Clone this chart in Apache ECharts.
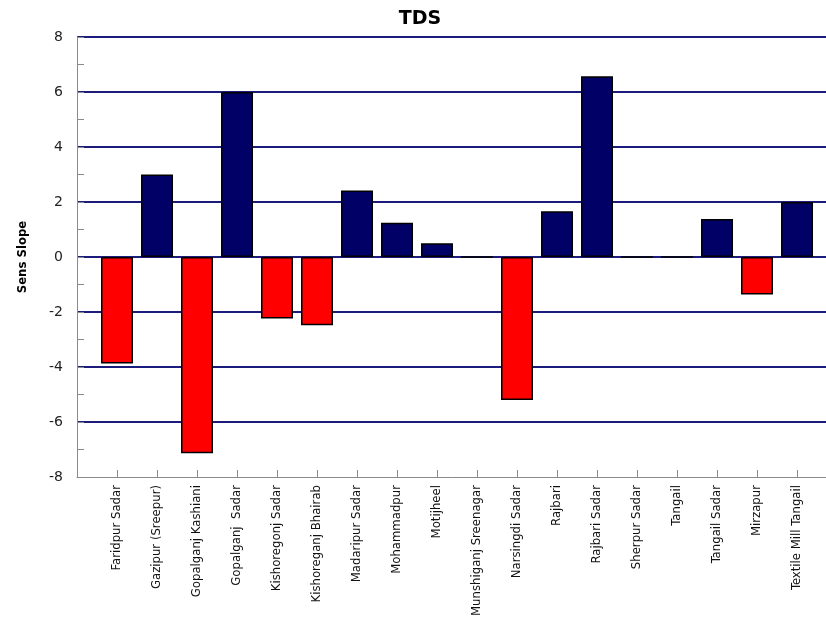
<!DOCTYPE html>
<html>
<head>
<meta charset="utf-8">
<script src="https://cdn.jsdelivr.net/npm/echarts@6/dist/echarts.min.js"></script>
<style>
  html, body { margin: 0; padding: 0; background: #ffffff; }
  #chart { width: 826px; height: 617px; }
</style>
</head>
<body>
<div id="chart"></div>
<script>
// Sen's slope of TDS trend per monitoring station
const stations = [
  'Faridpur Sadar', 'Gazipur (Sreepur)', 'Gopalganj Kashiani', 'Gopalganj  Sadar',
  'Kishoregonj Sadar', 'Kishoreganj Bhairab', 'Madaripur Sadar', 'Mohammadpur',
  'Motijheel', 'Munshiganj Sreenagar', 'Narsingdi Sadar', 'Rajbari',
  'Rajbari Sadar', 'Sherpur Sadar', 'Tangail', 'Tangail Sadar',
  'Mirzapur', 'Textile Mill Tangail'
];
const sensSlope = [
  -3.87, 3.0, -7.14, 6.0,
  -2.24, -2.48, 2.42, 1.25,
  0.5, 0, -5.2, 1.66,
  6.57, 0, 0, 1.38,
  -1.36, 2.0
];
const yTicks = [-8, -6, -4, -2, 0, 2, 4, 6, 8];

const NAVY = '#000066';
const RED = '#ff0000';
const GRID_LINE = '#1c1c7c';
const AXIS_GRAY = '#8a8a8a';
const NARROW = '"DejaVu Sans Condensed", "DejaVu Sans", sans-serif';

// Padding slots at both ends of the category axis keep the bars clear of the y axis
const axisCategories = [''].concat(stations, ['']);
const axisValues = ['-'].concat(sensSlope, ['-']);

const chart = echarts.init(document.getElementById('chart'), null, { renderer: 'canvas' });

chart.setOption({
  animation: false,
  backgroundColor: '#ffffff',
  title: {
    text: 'TDS',
    left: 415,
    top: 5,
    textAlign: 'center',
    textStyle: { fontFamily: 'DejaVu Sans', fontWeight: 'bold', fontSize: 19, color: '#000000' }
  },
  grid: { left: 77, right: -11, top: 37, bottom: 140, outerBoundsMode: 'none', containLabel: false },
  xAxis: {
    type: 'category',
    data: axisCategories,
    boundaryGap: false,
    position: 'bottom',
    axisLine: { onZero: false, lineStyle: { color: AXIS_GRAY, width: 1 } },
    axisTick: {
      inside: true,
      length: 7,
      interval: (idx, val) => val !== '',
      lineStyle: { color: AXIS_GRAY, width: 1 }
    },
    axisLabel: {
      interval: 0,
      rotate: 90,
      margin: 8,
      fontFamily: NARROW,
      fontSize: 13,
      color: '#111111'
    },
    splitLine: { show: false }
  },
  yAxis: {
    type: 'value',
    min: yTicks[0],
    max: yTicks[yTicks.length - 1],
    interval: 2,
    name: 'Sens Slope',
    nameLocation: 'middle',
    nameGap: 48,
    nameRotate: 90,
    nameTextStyle: { fontFamily: NARROW, fontWeight: 'bold', fontSize: 13, color: '#000000' },
    axisLine: { show: true, lineStyle: { color: AXIS_GRAY, width: 1 } },
    axisTick: { show: true, inside: true, length: 7, lineStyle: { color: AXIS_GRAY } },
    minorTick: { show: true, splitNumber: 2, length: 7, lineStyle: { color: AXIS_GRAY } },
    axisLabel: {
      margin: 14,
      fontFamily: 'DejaVu Sans',
      fontSize: 14,
      color: '#222222'
    },
    splitLine: {
      show: true,
      showMinLine: false,
      lineStyle: { color: GRID_LINE, width: 2 }
    }
  },
  series: [{
    type: 'bar',
    data: axisValues,
    barWidth: 32,
    itemStyle: {
      color: (p) => (p.value < 0 ? RED : NAVY),
      borderColor: '#000000',
      borderWidth: 1.5
    },
    z: 3
  }]
});
</script>
</body>
</html>
